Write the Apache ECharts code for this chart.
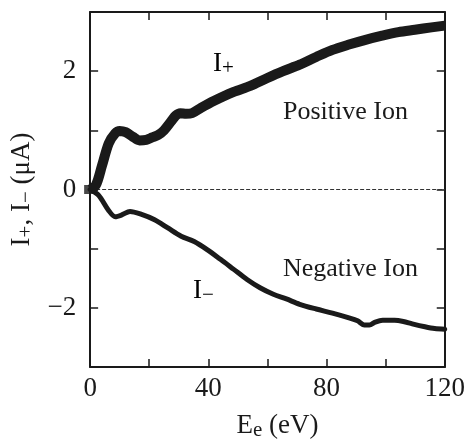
<!DOCTYPE html>
<html>
<head>
<meta charset="utf-8">
<script src="https://cdn.jsdelivr.net/npm/echarts@6/dist/echarts.min.js"></script>
<style>
html,body{margin:0;padding:0;background:#fff;}
#chart{width:468px;height:446px;}
</style>
</head>
<body>
<div id="chart"></div>
<script>
// Electron energy E_e (eV) and positive ion current I+ (µA)
var ePlus = [0, 2, 4, 6.3, 8.5, 10, 12, 14.5, 16.7, 19, 21, 23, 25, 27.4, 29, 30.5, 32.5, 34.5, 37.5, 42, 48.6, 54.2, 59.8, 65.3, 70.9, 76.5, 82, 87.6, 93.2, 98.8, 104.3, 109.9, 115.5, 120];
var iPlus = [0, 0.08, 0.4, 0.78, 0.95, 0.99, 0.97, 0.89, 0.83, 0.84, 0.88, 0.92, 1.0, 1.15, 1.25, 1.29, 1.28, 1.29, 1.38, 1.5, 1.65, 1.75, 1.88, 2.0, 2.11, 2.24, 2.36, 2.45, 2.53, 2.6, 2.66, 2.7, 2.74, 2.77];
// Negative ion current I- (µA)
var eMinus = [0, 2.9, 6.2, 8.5, 10.7, 13.5, 17.4, 21.8, 26.3, 30.8, 35.2, 39.7, 44.1, 48.6, 53.1, 57.5, 62, 66.4, 70.9, 76.5, 82, 87.6, 90.5, 92.8, 94.5, 96.5, 99, 103, 106, 109, 113.3, 116.6, 120];
var iMinus = [0, -0.1, -0.35, -0.46, -0.43, -0.37, -0.42, -0.51, -0.65, -0.79, -0.88, -1.02, -1.18, -1.35, -1.52, -1.66, -1.77, -1.85, -1.94, -2.02, -2.09, -2.17, -2.22, -2.29, -2.29, -2.24, -2.21, -2.21, -2.23, -2.27, -2.32, -2.35, -2.36];
// zero reference line
var zeroX = [0, 120];
var zeroY = [0, 0];
// origin marker
var originX = [0];
var originY = [0];
// tick labels
var xTickLabels = [0, 40, 80, 120];
var yTickLabels = [-2, 0, 2];

function pairs(xs, ys){ return xs.map(function(x,i){ return [x, ys[i]]; }); }

var FONT = '"Liberation Serif", "DejaVu Serif", serif';
var INK = '#1a1a1a';

var chart = echarts.init(document.getElementById('chart'));

var subRich = {
  n: {fontFamily: FONT, fontSize: 27, color: INK, lineHeight: 30},
  s: {fontFamily: FONT, fontSize: 21, color: INK, lineHeight: 17, verticalAlign: 'bottom'}
};

var axisCommon = {
  type: 'value',
  axisLine: {show: true, onZero: false, lineStyle: {color: INK, width: 2}},
  axisTick: {show: true, inside: true, length: 8, lineStyle: {color: INK, width: 1.5}},
  splitLine: {show: false}
};

chart.setOption({
  animation: false,
  backgroundColor: '#fff',
  grid: {left: 88, right: 21, top: 12, bottom: 76},
  xAxis: [
    Object.assign({}, axisCommon, {
      position: 'bottom', min: 0, max: 120, interval: 20,
      axisLabel: {
        show: true, margin: 8, fontFamily: FONT, fontSize: 27, color: INK,
        formatter: function(v){ return xTickLabels.indexOf(v) >= 0 ? String(v) : ''; }
      },
      name: '{n|E}{s|e}{n| (eV)}',
      nameLocation: 'middle', nameGap: 44,
      nameTextStyle: {rich: subRich, padding: [0,0,0,20]}
    }),
    Object.assign({}, axisCommon, {
      position: 'top', min: 0, max: 120, interval: 20,
      axisLabel: {show: false}
    })
  ],
  yAxis: [
    Object.assign({}, axisCommon, {
      position: 'left', min: -3, max: 3, interval: 1,
      axisLabel: {
        show: true, margin: 14, fontFamily: FONT, fontSize: 27, color: INK,
        formatter: function(v){
          if (yTickLabels.indexOf(v) < 0) return '';
          return v < 0 ? '\u2212' + Math.abs(v) : String(v);
        }
      },
      name: '{n|I}{s|+}{n|, I}{s|\u2212}{n| (\u03bcA)}',
      nameLocation: 'middle', nameGap: 46, nameRotate: 90,
      nameTextStyle: {rich: subRich}
    }),
    Object.assign({}, axisCommon, {
      position: 'right', min: -3, max: 3, interval: 1,
      axisLabel: {show: false}
    })
  ],
  graphic: [
    {type: 'text', left: 213, top: 50, style: {text: '{n|I}{s|+}', rich: subRich}},
    {type: 'text', left: 193, top: 277, style: {text: '{n|I}{s|\u2212}', rich: subRich}},
    {type: 'text', left: 283, top: 99, style: {text: 'Positive Ion', fontFamily: FONT, fontSize: 26, fill: INK}},
    {type: 'text', left: 283, top: 256, style: {text: 'Negative Ion', fontFamily: FONT, fontSize: 26, fill: INK}}
  ],
  series: [
    {
      type: 'line', data: pairs(zeroX, zeroY), symbol: 'none', silent: true,
      lineStyle: {color: '#333', width: 1.2, type: [4, 2]}
    },
    {
      type: 'line', name: 'I-', data: pairs(eMinus, iMinus), symbol: 'none', smooth: 0.3, clip: false,
      lineStyle: {color: INK, width: 5, cap: 'round', join: 'round'}
    },
    {
      type: 'line', name: 'I+', data: pairs(ePlus, iPlus), symbol: 'none', smooth: 0.3, clip: false,
      lineStyle: {color: INK, width: 10, cap: 'butt', join: 'round'}
    },
    {
      type: 'scatter', data: pairs(originX, originY), symbol: 'rect', symbolSize: [12, 9],
      itemStyle: {color: INK}, silent: true
    }
  ]
});
</script>
</body>
</html>
